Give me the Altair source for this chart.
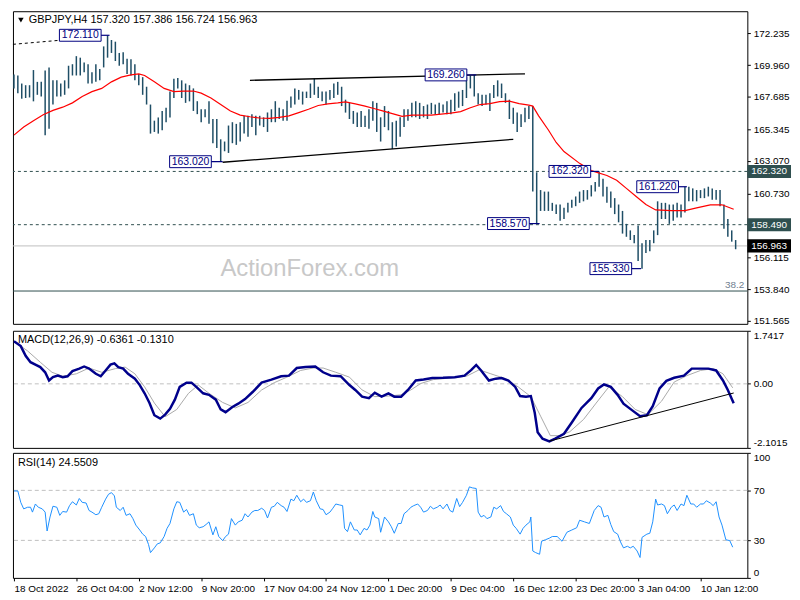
import json
import pandas as pd
import altair as alt

# ---------------- data ----------------
x_label_bars = [0, 32, 64, 96, 128, 160, 192, 224, 256, 288, 320, 352]
x_labels = ["18 Oct 2022", "26 Oct 04:00", "2 Nov 12:00", "9 Nov 20:00", "17 Nov 04:00",
            "24 Nov 12:00", "1 Dec 20:00", "9 Dec 04:00", "16 Dec 12:00", "23 Dec 20:00",
            "3 Jan 04:00", "10 Jan 12:00"]

# H4 bar index of each drawn bar (every second H4 bar) and its high / low
bar_k = list(range(0, 372, 2))
bar_hi = [
    169.29, 169.22, 168.64, 168.52, 168.52, 169.61, 168.76, 168.76, 169.57, 169.80,
    168.87, 168.87, 168.64, 168.87, 169.92, 170.03, 170.61, 170.50, 170.15, 170.03,
    169.45, 170.03, 169.68, 171.31, 172.11, 171.77, 171.65, 170.84, 170.89, 170.43,
    170.38, 170.03, 169.33, 169.10, 168.41, 167.13, 165.97, 166.20, 166.67, 166.90,
    168.06, 168.99, 169.03, 168.87, 168.64, 168.52, 168.29,
    167.37, 166.79, 166.79, 167.37, 166.09, 166.09, 164.63, 164.47, 165.62, 165.86,
    165.74, 165.86, 166.32, 166.32, 166.44, 166.32, 166.32, 166.21, 166.56, 166.79,
    167.37, 166.90, 166.79, 167.41, 167.71, 168.29, 168.18, 168.06, 168.06, 168.64,
    168.99, 168.41, 168.06, 168.06, 168.18, 168.64, 168.76, 168.41, 167.48, 167.25,
    166.67, 166.56, 166.67, 166.32, 166.79, 167.37,
    167.25, 166.21, 167.02, 166.67, 165.86, 165.97, 166.21, 166.79, 166.79, 167.25,
    167.37, 167.25, 167.02, 167.13, 167.25, 167.13, 167.25, 167.13, 167.37, 167.48,
    167.94, 168.06, 168.18, 169.11, 169.22, 169.26, 167.94, 167.83, 167.83, 167.94,
    168.53, 168.87, 168.64, 167.94, 167.48, 166.90, 166.56, 166.44, 166.90, 167.02,
    167.02, 162.26, 160.98, 160.87, 160.87, 160.06, 159.94,
    159.94, 159.71, 160.06, 160.29, 160.52, 160.87, 160.98, 160.98, 161.33, 161.56,
    162.32, 161.80, 161.22, 160.87, 160.40, 159.94, 159.48, 158.55, 158.08, 157.74,
    158.43, 157.16, 157.39, 157.39, 158.08, 160.17, 160.06, 160.06, 159.94, 159.94,
    160.06, 159.94, 161.22, 161.22, 161.10, 160.98, 160.98, 161.10, 161.22, 161.10,
    160.98, 160.98, 159.94, 158.90, 158.08, 157.386,
]
bar_lo = [
    168.29, 167.94, 167.55, 167.60, 167.64, 167.36, 167.83, 167.71, 164.93, 165.39,
    167.13, 167.71, 167.71, 167.83, 168.29, 169.22, 169.22, 169.22, 169.45, 168.64,
    168.64, 168.76, 168.87, 169.80, 170.50, 170.84, 170.26, 169.92, 170.03, 169.33,
    169.22, 168.87, 168.52, 167.83, 167.13, 165.04, 165.16, 165.04, 165.28, 165.86,
    166.20, 167.60, 168.29, 167.60, 167.25, 167.36, 166.67,
    166.44, 165.86, 166.21, 165.74, 164.35, 164.00, 163.02, 163.77, 163.65, 164.35,
    164.23, 164.47, 165.04, 164.81, 165.51, 164.93, 165.62, 165.51, 165.16, 165.86,
    165.86, 166.09, 165.97, 165.97, 166.90, 167.13, 167.48, 167.13, 167.60, 167.60,
    167.83, 167.60, 167.37, 167.13, 167.48, 167.60, 167.83, 167.02, 166.55, 166.09,
    165.74, 165.51, 165.51, 165.51, 165.39, 165.97,
    165.16, 164.47, 165.51, 165.28, 163.93, 164.12, 164.81, 165.51, 165.97, 166.21,
    166.21, 166.09, 166.21, 166.09, 166.44, 166.44, 166.44, 166.56, 166.44, 166.44,
    166.67, 166.90, 167.02, 167.60, 168.29, 167.71, 167.13, 167.02, 167.13, 166.67,
    167.60, 167.71, 167.60, 167.25, 166.09, 165.74, 165.16, 165.51, 165.86, 166.09,
    160.87, 158.57, 159.48, 159.48, 159.48, 159.48, 159.25,
    158.78, 158.90, 159.36, 159.71, 159.82, 160.06, 160.17, 160.29, 160.52, 160.87,
    161.22, 160.52, 160.06, 159.71, 159.25, 158.66, 157.85, 157.62, 157.39, 157.16,
    155.88, 155.33, 156.46, 156.58, 157.16, 157.74, 158.90, 158.90, 158.55, 158.78,
    159.01, 159.01, 159.36, 160.17, 160.17, 160.17, 160.40, 160.40, 160.52, 160.29,
    160.29, 159.82, 158.20, 157.62, 157.27, 156.724,
]

# red moving average
ma_k = [0, 5, 10, 15, 20, 25, 30, 35, 40, 45, 50, 55, 60, 64, 67, 72, 77, 82, 87, 92,
        96, 101, 106, 111, 116, 121, 126, 131, 136, 141, 146, 151, 156, 161, 166, 170, 175, 180, 185, 189,
        194, 199, 204, 209, 214, 219, 224, 229, 234, 239, 244, 249, 254, 259, 264, 266, 269, 274, 278, 282,
        290, 296, 304, 309, 314, 319, 324, 329, 337, 344, 350, 357, 363, 369]
ma_v = [164.93, 165.51, 165.97, 166.39, 166.71, 166.94, 167.25, 167.71, 168.06, 168.29,
        168.76, 169.10, 169.26, 169.33, 169.22, 168.76, 168.29, 168.06, 168.10, 168.10,
        167.95, 167.60, 167.13, 166.67, 166.37, 166.25, 166.16, 166.14, 166.21, 166.32,
        166.55, 166.79, 167.06, 167.18, 167.25, 167.32, 167.18, 167.02, 166.83, 166.67,
        166.48, 166.28, 166.37, 166.37, 166.37, 166.44, 166.51, 166.62, 166.90, 167.13,
        167.20, 167.34, 167.37, 167.20, 167.09, 167.02, 166.32, 165.30, 164.40, 163.75,
        162.90, 162.38, 162.03, 161.68, 161.10, 160.52, 159.94, 159.55, 159.50, 159.50,
        159.70, 159.92, 159.92, 159.60]

price_ticks = [172.235, 169.960, 167.685, 165.345, 163.070, 160.730, 156.115, 153.840, 151.565]
dashed_levels = [162.32, 158.49]
last_price = 156.963
fib_level = 153.72

badge_values = [162.32, 158.49, 156.963]
badge_texts = ["162.320", "158.490", "156.963"]
badge_colors = ["#2f4f4f", "#2f4f4f", "#000000"]

# swing-point labels: value, label-centre bar, swing bar
swing_values = [172.11, 163.02, 169.26, 162.32, 158.57, 161.22, 155.33]
swing_texts = ["172.110", "163.020", "169.260", "162.320", "158.570", "161.220", "155.330"]
swing_label_k = [34, 90.5, 221.5, 285, 253.5, 330, 306]
swing_bar_k = [49, 107, 237, 300, 269.5, 345, 321.5]

# trend lines (solid) and the dashed line top-left
trend_k1 = [121, 107]
trend_p1 = [168.87, 162.98]
trend_k2 = [262, 256]
trend_p2 = [169.34, 164.63]
dtrend_k1, dtrend_p1, dtrend_k2, dtrend_p2 = [-0.5], [171.46], [23.5], [171.75]

# MACD main line
macd_k = [0, 3.5, 6, 8.5, 11, 13.5, 16, 18, 20, 22.5, 25, 27.5, 30, 33.5, 36, 38.5, 42, 44.5, 47, 49.5,
          51.5, 53.5, 56, 58.5, 62, 64.5, 67, 69.5, 72, 75, 77.5, 80, 82.5, 85, 88.5, 91, 93.5, 97, 100, 103.5,
          106, 108.5, 112, 115, 118.5, 122.5, 127, 132, 137, 141, 145, 149.5, 154.5, 158.5, 162.5, 167.5, 172, 175, 178.5, 182,
          185, 188.5, 192, 195, 198.5, 202, 206, 210, 214.5, 220, 226, 231, 234.5, 237, 239.5, 243.5, 247, 250, 253.5, 257,
          259.5, 262.5, 265, 267, 268.5, 271, 274.5, 277.5, 282, 286, 291, 296, 299.5, 302.5, 306, 309.5, 312.5, 317, 321, 324.5,
          327.5, 331, 334.5, 338.5, 343.5, 347.5, 352, 356, 360, 363.5, 366, 369]
macd_v = [1.40, 1.24, 0.92, 0.71, 0.63, 0.55, 0.38, 0.11, 0.22, 0.27, 0.22, 0.25, 0.42, 0.50, 0.57, 0.50, 0.33, 0.25, 0.44, 0.63,
          0.67, 0.55, 0.50, 0.33, 0.17, -0.04, -0.31, -0.63, -1.03, -1.14, -1.01, -0.82, -0.52, -0.10, 0.04, 0.04, -0.10, -0.31, -0.36, -0.52,
          -0.84, -0.93, -0.76, -0.65, -0.50, -0.26, 0.04, 0.14, 0.25, 0.27, 0.52, 0.55, 0.57, 0.38, 0.27, 0.25, -0.04, -0.20, -0.42, -0.47,
          -0.29, -0.42, -0.31, -0.42, -0.42, -0.20, 0.11, 0.14, 0.19, 0.20, 0.22, 0.27, 0.46, 0.62, 0.44, 0.11, 0.17, 0.19, 0.11, -0.10,
          -0.40, -0.42, -0.40, -0.95, -1.59, -1.80, -1.89, -1.80, -1.64, -1.27, -0.79, -0.47, -0.15, -0.02, -0.10, -0.36, -0.65, -0.87, -1.06, -1.03,
          -0.73, -0.15, 0.10, 0.20, 0.27, 0.50, 0.50, 0.50, 0.44, 0.11, -0.20, -0.6361]

# MACD signal line
sig_k = [0, 7, 13.5, 19.5, 25, 32, 38.5, 45, 52, 57, 62, 67, 72, 77.5, 83.5, 89.5, 94.5, 100, 107, 113.5,
         120, 127, 133.5, 140, 147, 153.5, 158.5, 165, 172, 178.5, 185, 192, 198.5, 203.5, 208.5, 215, 223.5, 232, 238.5, 244.5,
         252, 258.5, 265, 270, 275, 280, 285, 292, 298.5, 305, 312, 318.5, 325, 332, 338.5, 345, 352, 358.5, 363.5, 368.5]
sig_v = [1.40, 1.08, 0.71, 0.38, 0.25, 0.33, 0.52, 0.38, 0.50, 0.55, 0.33, -0.10, -0.63, -1.08, -0.84, -0.31, -0.04, -0.31, -0.61, -0.79,
         -0.61, -0.20, 0.04, 0.22, 0.44, 0.52, 0.52, 0.38, 0.22, -0.20, -0.42, -0.40, -0.36, -0.20, 0.01, 0.14, 0.19, 0.25, 0.46, 0.33,
         0.17, -0.10, -0.42, -1.06, -1.70, -1.70, -1.57, -1.17, -0.63, -0.10, -0.42, -0.84, -1.01, -0.57, 0.06, 0.27, 0.44, 0.50, 0.33, -0.131]

macd_trend_k = [274.5, 369]
macd_trend_v = [-1.88, -0.30]
macd_ticks = [-2.1015, 0, 1.7417]

# RSI(14)
rsi_k = [0, 2, 3.5, 5, 7, 8.5, 9.5, 11, 12.5, 14.5, 16, 17, 18.5, 20, 22, 23.5, 25, 27, 28.5, 30,
         32, 33.5, 35, 37, 38.5, 40, 42, 43.5, 45, 47, 48.5, 50, 51.5, 52.5, 54.5, 56, 57.5, 59.5, 61, 62.5,
         64.5, 66, 67.5, 69, 70, 72, 73.5, 75, 77, 78.5, 80, 82, 83.5, 85, 87, 88.5, 90, 92, 93.5, 95,
         97, 98.5, 100, 102, 103.5, 105, 107, 108.5, 110, 111.5, 113.5, 115, 117, 118.5, 120, 122, 123.5, 125, 127, 128.5,
         130, 132, 133.5, 135, 137, 138.5, 140, 142, 143.5, 145, 147, 148.5, 150, 152, 153.5, 155, 157, 158.5, 160, 162,
         163.5, 165, 167, 168.5, 169.5, 171, 172.5, 174.5, 176, 177.5, 179.5, 181, 182.5, 184, 185, 187, 188, 190, 192, 193.5,
         195, 197, 198.5,
         200, 202, 203.5, 205, 207, 208.5, 210, 212, 213.5, 215, 217, 218.5, 220, 222, 223.5, 225, 227, 228.5, 230, 232,
         233.5, 235, 237, 238, 239.5, 241, 242.5, 244.5, 246, 247.5, 249.5, 251, 252.5, 254.5, 256, 257.5, 259.5, 261, 262.5, 264.5,
         265, 266, 267.5, 269.5, 270.5, 272.5, 274.5, 276, 278.5, 281, 283.5, 286, 288.5, 290, 292.5, 295, 297.5, 299.5, 301, 302.5,
         304.5, 306, 307.5, 309.5, 311, 312.5, 314.5, 316, 317.5, 319.5, 321, 322, 324.5, 326, 327.5, 329, 330, 332, 333.5, 335,
         337, 338.5, 340, 342, 343.5, 345, 347, 348.5, 350, 352, 353.5, 355, 357, 358.5, 360, 361.5, 363, 365, 367, 368.5]
rsi_v = [69.5, 69.5, 60.4, 55.2, 56.5, 56.5, 52.6, 59.1, 56.5, 55.2, 52.6, 37.5, 48.7, 57.3, 56.5, 50.0, 53.1, 52.6, 57.8, 60.9,
         58.3, 63.5, 60.4, 59.9, 53.9, 52.6, 50.5, 51.3, 56.5, 63.0, 66.9, 68.2, 65.6, 56.5, 53.9, 56.5, 50.0, 51.3, 47.4, 42.2,
         38.3, 35.0, 33.1, 26.7, 20.2, 24.0, 27.2, 28.0, 33.1, 39.6, 43.5, 55.2, 60.9, 60.4, 52.6, 54.7, 50.0, 51.3, 42.2, 40.1,
         40.9, 42.7, 44.8, 34.4, 40.9, 33.1, 29.8, 33.1, 35.0, 47.4, 42.2, 44.8, 46.1, 51.3, 48.7, 52.6, 53.9, 53.9, 55.7, 53.9,
         47.9, 56.5, 57.3, 60.4, 57.8, 56.5, 53.1, 63.0, 61.7, 66.1, 60.9, 63.0, 60.4, 61.7, 68.7, 61.7, 55.2, 54.7, 50.5, 52.6,
         55.7, 59.1, 58.3, 57.8, 39.6, 37.0, 44.8, 38.3, 38.3, 34.4, 39.6, 38.3, 42.2, 53.1, 48.7, 47.4, 36.5, 48.7, 44.8, 40.9,
         35.7, 43.5, 43.5,
         51.3, 53.9, 56.5, 57.8, 59.1, 56.5, 52.6, 53.9, 57.3, 55.2, 56.5, 58.3, 55.2, 59.1, 53.9, 52.6, 63.5, 57.0, 60.4, 66.1,
         72.8, 72.0, 71.5, 52.6, 48.7, 50.0, 47.4, 48.7, 56.5, 55.2, 57.8, 53.1, 51.3, 48.7, 42.2, 39.6, 35.0, 39.6, 42.2, 44.8,
         48.7, 21.5, 20.2, 18.9, 29.3, 30.5, 31.8, 33.1, 33.1, 29.3, 36.5, 38.3, 40.1, 46.1, 44.8, 43.5, 53.9, 57.8, 56.5, 48.7,
         50.0, 42.7, 37.0, 35.0, 28.7, 24.0, 25.3, 24.0, 25.3, 21.5, 16.3, 32.4, 35.0, 35.7, 44.8, 63.0, 58.3, 59.1, 57.8, 51.3,
         56.5, 58.3, 53.9, 59.1, 57.8, 66.1, 59.1, 59.1, 56.5, 59.1, 59.1, 61.7, 59.9, 57.8, 60.9, 48.7, 42.2, 30.5, 29.8, 24.55]
rsi_levels = [70, 30]
rsi_ticks = [0, 30, 70, 100]

header_text = "GBPJPY,H4  157.320 157.386 156.724 156.963"
macd_title = "MACD(12,26,9) -0.6361 -0.1310"
rsi_title = "RSI(14) 24.5509"
watermark = "ActionForex.com"

# ---------------- styling / layout ----------------
FONT = "Liberation Sans"
W = 740
H1, H2, H3 = 315, 118, 126
NAVY = "#000080"
BARC = "#1f4e66"
SLATE = "#2f4f4f"

xs = alt.Scale(domain=[-0.5, 376], nice=False, zero=False)
ps = alt.Scale(domain=[151.36, 173.84], nice=False, zero=False)
ms = alt.Scale(domain=[-2.1015, 1.7417], nice=False, zero=False)
rs = alt.Scale(domain=[0, 100], nice=False, zero=False)

p_axis = alt.Axis(orient="right", values=price_ticks, format=".3f", title=None, labelFlush=False)
m_axis = alt.Axis(orient="right", values=macd_ticks, title=None, labelFlush=True,
                  labelExpr="datum.value == 0 ? '0.00' : '' + datum.value")
r_axis = alt.Axis(orient="right", values=rsi_ticks, title=None, labelFlush=True)
x_axis = alt.Axis(orient="bottom", values=x_label_bars, title=None, labelAlign="left",
                  labelFlush=False, labelOverlap=False,
                  labelExpr=json.dumps(x_labels) + "[round(datum.value / 32)]")


def PX(f):
    return alt.X(f, type="quantitative", scale=xs, axis=None)


def PY(f):
    return alt.Y(f, type="quantitative", scale=ps, axis=p_axis)


BOX = "M-1,-0.2857H1V0.2857H-1Z"
BADGE = "M-1,-0.3H1V0.3H-1Z"

one = lambda t: pd.DataFrame({"t": [t]})

# ---------------- price panel ----------------
wm = alt.Chart(one(watermark)).mark_text(font=FONT, fontSize=24, color="#c8c8c8").encode(
    x=alt.value(299), y=alt.value(260), text="t:N")

lv_dash = alt.Chart(pd.DataFrame({"p": dashed_levels})).mark_rule(
    color=SLATE, strokeDash=[3, 3], strokeWidth=1).encode(y=PY("p"))
lv_last = alt.Chart(pd.DataFrame({"p": [last_price]})).mark_rule(
    color="#c0c0c0", strokeWidth=1).encode(y=PY("p"))
lv_fib = alt.Chart(pd.DataFrame({"p": [fib_level]})).mark_rule(
    color=SLATE, strokeWidth=1).encode(y=PY("p"))
fib_txt = alt.Chart(pd.DataFrame({"p": [fib_level], "t": ["38.2"]})).mark_text(
    font=FONT, fontSize=10, color="#708090", align="right", baseline="bottom", dy=-1).encode(
    x=alt.value(W - 3), y=PY("p"), text="t:N")

bars = alt.Chart(pd.DataFrame({"k": bar_k, "hi": bar_hi, "lo": bar_lo})).mark_rule(
    color=BARC, strokeWidth=1.5).encode(x=PX("k"), y=PY("lo"), y2="hi")

ma = alt.Chart(pd.DataFrame({"k": ma_k, "v": ma_v})).mark_line(
    color="#ff0000", strokeWidth=1.2).encode(x=PX("k"), y=PY("v"))

trend = alt.Chart(pd.DataFrame({"k1": trend_k1, "p1": trend_p1, "k2": trend_k2, "p2": trend_p2})).mark_rule(
    color="black", strokeWidth=1.3).encode(x=PX("k1"), y=PY("p1"), x2="k2", y2="p2")
dtrend = alt.Chart(pd.DataFrame({"k1": dtrend_k1, "p1": dtrend_p1, "k2": dtrend_k2, "p2": dtrend_p2})).mark_rule(
    color="black", strokeWidth=1, strokeDash=[3, 3]).encode(x=PX("k1"), y=PY("p1"), x2="k2", y2="p2")

sw = pd.DataFrame({"v": swing_values, "t": swing_texts, "bk": swing_label_k, "tk": swing_bar_k})
conn = alt.Chart(sw).mark_rule(color=NAVY, strokeWidth=1.2).encode(x=PX("bk"), x2="tk", y=PY("v"))
boxes = alt.Chart(sw).mark_point(shape=BOX, size=1764, filled=True, fill="white", stroke=NAVY,
                                 strokeWidth=1, opacity=1).encode(x=PX("bk"), y=PY("v"))
btxt = alt.Chart(sw).mark_text(font=FONT, fontSize=10.5, color=NAVY).encode(
    x=PX("bk"), y=PY("v"), text="t:N")

bd = pd.DataFrame({"p": badge_values, "t": badge_texts, "c": badge_colors})
badges = alt.Chart(bd).mark_point(shape=BADGE, size=1936, filled=True, opacity=1).encode(
    x=alt.value(W + 22), y=PY("p"), color=alt.Color("c:N", scale=None))
badge_txt = alt.Chart(bd).mark_text(font=FONT, fontSize=10, color="white", align="left").encode(
    x=alt.value(W + 4), y=PY("p"), text="t:N")

tri = alt.Chart(one("")).mark_point(shape="triangle-down", size=30, filled=True, color="black",
                                     opacity=1).encode(x=alt.value(8), y=alt.value(9))
head = alt.Chart(one(header_text)).mark_text(font=FONT, fontSize=11, color="black", align="left",
                                            baseline="middle").encode(x=alt.value(16), y=alt.value(9), text="t:N")

price = alt.layer(wm, lv_dash, lv_last, lv_fib, fib_txt, bars, ma, trend, dtrend, conn, boxes, btxt,
                  badges, badge_txt, tri, head).properties(width=W, height=H1)

# ---------------- MACD panel ----------------
MY = lambda f: alt.Y(f, type="quantitative", scale=ms, axis=m_axis)
m_zero = alt.Chart(pd.DataFrame({"v": [0]})).mark_rule(color="#c0c0c0", strokeDash=[4, 3]).encode(y=MY("v"))
m_sig = alt.Chart(pd.DataFrame({"k": sig_k, "v": sig_v})).mark_line(color="#a9a9a9", strokeWidth=1).encode(
    x=PX("k"), y=MY("v"))
m_main = alt.Chart(pd.DataFrame({"k": macd_k, "v": macd_v})).mark_line(color="#00008b", strokeWidth=2.5).encode(
    x=PX("k"), y=MY("v"))
m_tr = alt.Chart(pd.DataFrame({"k1": [macd_trend_k[0]], "v1": [macd_trend_v[0]],
                               "k2": [macd_trend_k[1]], "v2": [macd_trend_v[1]]})).mark_rule(
    color="black", strokeWidth=1).encode(x=PX("k1"), y=MY("v1"), x2="k2", y2="v2")
m_title = alt.Chart(one(macd_title)).mark_text(font=FONT, fontSize=11, color="black", align="left",
                                              baseline="middle").encode(x=alt.value(5), y=alt.value(9), text="t:N")
macd = alt.layer(m_zero, m_sig, m_main, m_tr, m_title).properties(width=W, height=H2)

# ---------------- RSI panel ----------------
RY = lambda f: alt.Y(f, type="quantitative", scale=rs, axis=r_axis)
r_lv = alt.Chart(pd.DataFrame({"v": rsi_levels})).mark_rule(color="#c0c0c0", strokeDash=[4, 3]).encode(y=RY("v"))
r_line = alt.Chart(pd.DataFrame({"k": rsi_k, "v": rsi_v})).mark_line(color="#1e90ff", strokeWidth=1).encode(
    x=alt.X("k", type="quantitative", scale=xs, axis=x_axis), y=RY("v"))
r_title = alt.Chart(one(rsi_title)).mark_text(font=FONT, fontSize=11, color="black", align="left",
                                             baseline="middle").encode(x=alt.value(5), y=alt.value(10), text="t:N")
rsi = alt.layer(r_lv, r_line, r_title).properties(width=W, height=H3)

chart = alt.vconcat(price, macd, rsi, spacing=3).properties(
    padding=0, background="white"
).configure_view(stroke="black", strokeWidth=1).configure_axis(
    labelFont=FONT, labelFontSize=10, labelColor="black", tickColor="black", tickSize=3,
    domain=False, grid=False, labelPadding=3
)

chart.save("out.html", embed_options={"renderer": "svg", "actions": False})
